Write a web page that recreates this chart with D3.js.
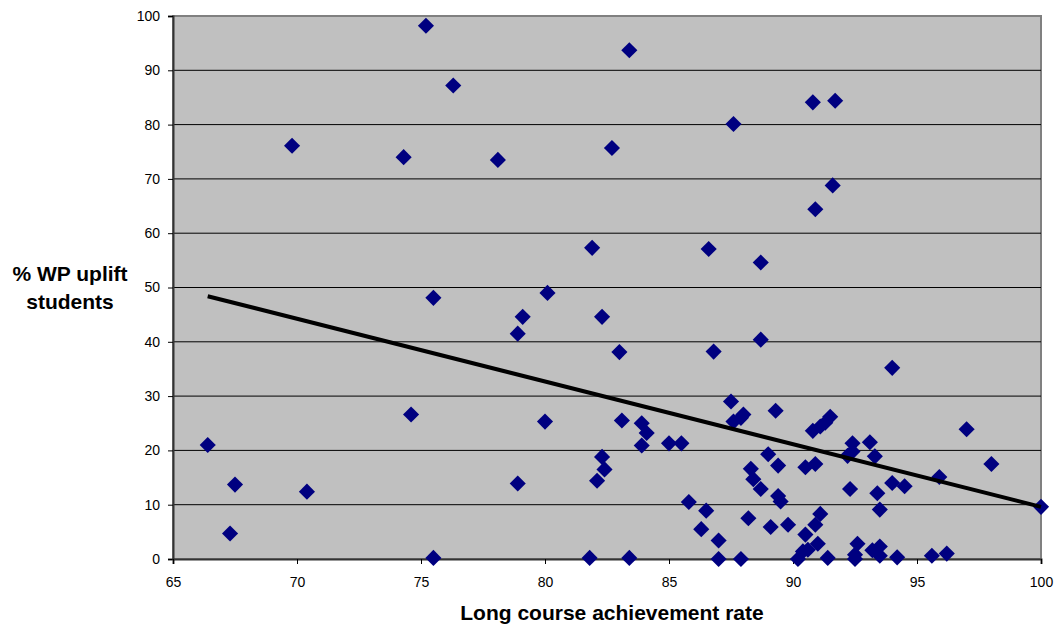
<!DOCTYPE html>
<html>
<head>
<meta charset="utf-8">
<script src="https://cdn.jsdelivr.net/npm/d3@7"></script>
<style>
  body { margin: 0; background: #fff; }
  svg { font-family: "Liberation Sans", Arial, sans-serif; }
</style>
</head>
<body>
<div id="chart"></div>
<script>
// achievement rate (x) and % WP uplift (y)
const rates = [66.4, 67.3, 67.5, 69.8, 70.4, 74.3, 74.6, 75.2, 75.5, 75.5, 76.3, 78.1, 78.9, 79.1, 78.9,
  80.0, 80.1, 81.8, 81.9, 82.1, 82.3, 82.3, 82.4, 82.7, 83.0, 83.1, 83.4, 83.4,
  83.9, 84.1, 83.9, 85.0, 85.5, 85.8, 86.5, 86.3, 87.0, 87.0, 87.9, 86.8, 88.7, 87.5, 87.6, 88.0, 87.9,
  89.3, 88.3, 88.4, 88.7, 88.2, 89.0, 89.4, 89.4, 89.5, 89.1, 89.8, 90.5, 90.2, 90.4, 90.6, 91.0, 90.9, 91.1,
  90.5, 90.9, 90.8, 91.1, 91.3, 91.5, 91.4, 92.4, 92.2, 92.4, 92.3, 93.1, 93.3, 92.5, 92.5, 92.6,
  93.2, 93.5, 93.5, 93.4, 93.5, 94.0, 94.5, 94.0, 94.2, 95.6, 96.2, 95.9, 97.0, 98.0, 100.0,
  90.8, 91.7, 87.6, 91.6, 90.9, 86.6, 88.7];
const uplift = [21.0, 4.7, 13.7, 76.1, 12.4, 74.0, 26.6, 98.2, 48.1, 0.2, 87.2, 73.5, 41.5, 44.6, 13.9,
  25.3, 49.0, 0.2, 57.3, 14.4, 44.6, 18.8, 16.5, 75.7, 38.1, 25.5, 93.7, 0.2,
  25.0, 23.2, 20.9, 21.3, 21.3, 10.5, 8.9, 5.5, 3.4, 0.0, 0.0, 38.2, 40.4, 29.0, 25.3, 26.6, 26.0,
  27.3, 16.6, 14.7, 12.9, 7.5, 19.3, 17.2, 11.6, 10.6, 5.9, 6.3, 4.5, 0.0, 1.4, 1.7, 2.8, 6.3, 8.3,
  16.9, 17.5, 23.6, 24.4, 25.1, 26.2, 0.2, 21.3, 19.0, 19.8, 12.9, 21.5, 18.9, 0.0, 0.8, 2.8,
  1.6, 2.3, 0.6, 12.1, 9.1, 14.0, 13.4, 35.2, 0.3, 0.6, 1.0, 15.1, 23.9, 17.5, 9.6,
  84.1, 84.4, 80.1, 68.8, 64.4, 57.1, 54.6];

// trendline end points
const trendX = [66.4, 100];
const trendY = [48.4, 9.6];

const xTicks = [65, 70, 75, 80, 85, 90, 95, 100];
const yTicks = [0, 10, 20, 30, 40, 50, 60, 70, 80, 90, 100];

const width = 1060;
const height = 630;
const margin = { left: 173, right: 1041, top: 16, bottom: 559 };

const svg = d3.select("#chart").append("svg")
  .attr("width", width)
  .attr("height", height);

const x = d3.scaleLinear().domain([65, 100]).range([margin.left, margin.right]);
const y = d3.scaleLinear().domain([0, 100]).range([margin.bottom, margin.top]);

// plot area
svg.append("rect")
  .attr("x", margin.left).attr("y", margin.top)
  .attr("width", margin.right - margin.left).attr("height", margin.bottom - margin.top)
  .attr("fill", "#c0c0c0")
  .attr("stroke", "#808080")
  .attr("stroke-width", 2);

// gridlines
svg.append("g")
  .selectAll("line")
  .data(yTicks.filter(d => d > 0 && d < 100))
  .enter()
  .append("line")
  .attr("x1", margin.left).attr("x2", margin.right)
  .attr("y1", d => y(d)).attr("y2", d => y(d))
  .attr("stroke", "#000")
  .attr("stroke-width", 1);

// axes
const yAxis = svg.append("g")
  .attr("transform", `translate(${margin.left},0)`)
  .call(d3.axisLeft(y).tickValues(yTicks).tickSize(5).tickPadding(8));
const xAxis = svg.append("g")
  .attr("transform", `translate(0,${margin.bottom})`)
  .call(d3.axisBottom(x).tickValues(xTicks).tickSize(5).tickPadding(13));

[xAxis, yAxis].forEach(a => {
  a.selectAll("text").attr("font-size", "14px").attr("fill", "#000")
    .attr("font-family", "Liberation Sans, Arial, sans-serif");
  a.selectAll("line").attr("stroke", "#000");
  a.select(".domain").attr("stroke", "#333").attr("stroke-width", 2);
});

// points
const points = rates.map((r, i) => ({ x: r, y: uplift[i] }));
svg.append("g")
  .selectAll("path")
  .data(points)
  .enter()
  .append("path")
  .attr("d", d3.symbol().type(d3.symbolSquare).size(130))
  .attr("transform", d => `translate(${x(d.x)},${y(d.y)}) rotate(45)`)
  .attr("fill", "#000080");

// trend line
svg.append("line")
  .attr("x1", x(trendX[0])).attr("y1", y(trendY[0]))
  .attr("x2", x(trendX[1])).attr("y2", y(trendY[1]))
  .attr("stroke", "#000")
  .attr("stroke-width", 4);

// titles
svg.append("text")
  .attr("x", 612)
  .attr("y", 620)
  .attr("text-anchor", "middle")
  .attr("font-size", "21px")
  .attr("font-weight", "bold")
  .text("Long course achievement rate");

const yt = svg.append("text")
  .attr("text-anchor", "middle")
  .attr("font-size", "21px")
  .attr("font-weight", "bold");
yt.append("tspan").attr("x", 70).attr("y", 281).text("% WP uplift");
yt.append("tspan").attr("x", 70).attr("y", 309).text("students");
</script>
</body>
</html>
